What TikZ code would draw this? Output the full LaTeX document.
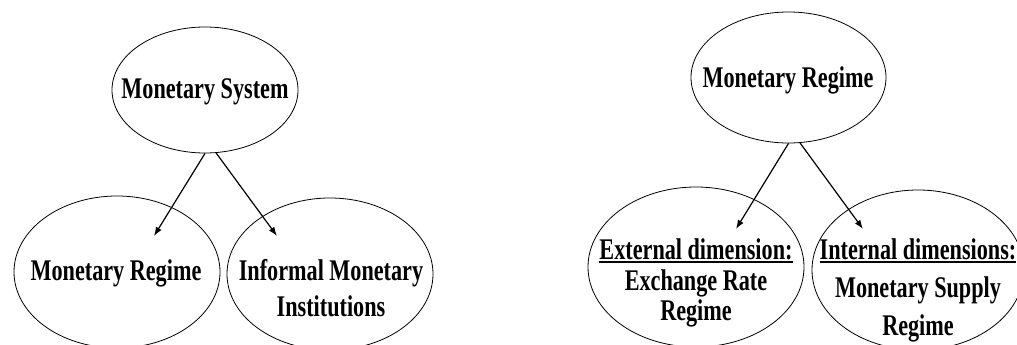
\documentclass[tikz,border=0pt]{standalone}
\usepackage{fontspec}
\newfontfamily\lblfont[FakeStretch=0.74]{Liberation Serif}
\usetikzlibrary{arrows.meta,shapes.geometric}
\newcommand{\ulabel}[1]{\setbox0=\hbox{#1}\rlap{\rule[-3.5pt]{\wd0}{1.8pt}}\box0}

\begin{document}
\begin{tikzpicture}[x=1pt,y=-1pt,>={Latex[length=9pt,width=6.5pt]},
  oval/.style={draw,ellipse,line width=0.8pt,inner sep=0pt},
  lbl/.style={font=\lblfont\bfseries\fontsize{30}{#1}\selectfont,align=center,inner sep=0pt},lbl/.default=34]
\clip (0,0) rectangle (1017,345);
% left: monetary system
\node[oval,minimum width=186,minimum height=126] (sys) at (205,90) {};
\node[oval,minimum width=206,minimum height=152] (reg) at (117,272) {};
\node[oval,minimum width=206,minimum height=152] (inf) at (330,274) {};
\node[lbl] (sysT) at (205,92) {Monetary System};
\node[lbl] (regT) at (116,273) {Monetary Regime};
\node[lbl=36] (infT) at (331,288) {Informal Monetary\\Institutions};
\coordinate (a1) at (154,236);\coordinate (a2) at (277,236);
\draw[->,line width=1.2pt] (sys.south)--(a1);\draw[->,line width=1.2pt] (sys.-80)--(a2);
% right: monetary regime
\node[oval,minimum width=195,minimum height=131] (reg2) at (788.5,77.5) {};
\node[oval,minimum width=216,minimum height=160] (ext) at (696,267) {};
\node[oval,minimum width=212,minimum height=160] (int) at (918,270) {};
\node[lbl] (reg2T) at (788,80) {Monetary Regime};
\node[lbl=30.5] (extT) at (696,283) {\ulabel{External dimension:}\\Exchange Rate\\Regime};
\node[lbl=38] (intT) at (918,290) {\ulabel{Internal dimensions:}\\Monetary Supply\\Regime};
\coordinate (b1) at (736,229);\coordinate (b2) at (863,229);
\draw[->,line width=1.2pt] (reg2.south)--(b1);\draw[->,line width=1.2pt] (reg2.-80)--(b2);
\end{tikzpicture}
\end{document}
